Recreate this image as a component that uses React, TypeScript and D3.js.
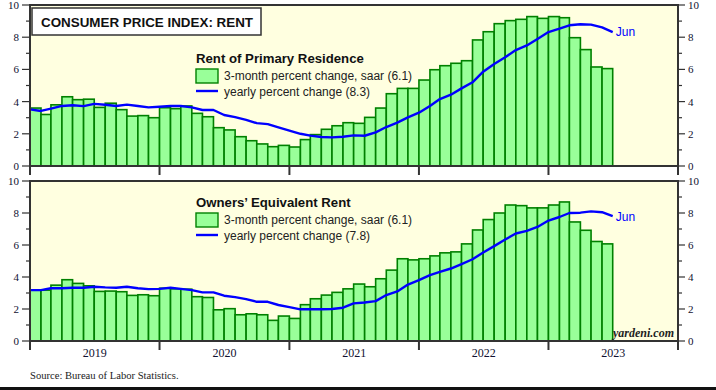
import React from "react";
import * as d3 from "d3";

const years = ["2019", "2020", "2021", "2022", "2023"];
const yTicks = [0, 2, 4, 6, 8, 10];
const yMinor = [1, 3, 5, 7, 9];

// monthly, Jan 2019 .. Jun 2023
const rentBars = [
  3.6, 3.2, 3.8, 4.3, 4.12, 4.15, 3.64, 3.9, 3.5, 3.1, 3.13, 3.0,
  3.62, 3.56, 3.73, 3.27, 3.06, 2.38, 2.24, 1.82, 1.57, 1.37, 1.2, 1.28,
  1.18, 1.64, 1.95, 2.28, 2.5, 2.69, 2.65, 3.02, 3.6, 4.49, 4.82, 4.82,
  5.34, 5.98, 6.23, 6.38, 6.54, 7.83, 8.34, 8.84, 9.03, 9.11, 9.28, 9.17,
  9.28, 9.21, 7.97, 7.23, 6.15, 6.05,
];
// monthly, Dec 2018 .. Jun 2023
const rentYoY = [
  3.52,
  3.42, 3.56, 3.73, 3.77, 3.72, 3.86, 3.8, 3.73, 3.81, 3.73, 3.64, 3.68,
  3.73, 3.73, 3.64, 3.48, 3.48, 3.17, 3.04, 2.87, 2.66, 2.6, 2.4, 2.2,
  2.0, 1.89, 1.8, 1.78, 1.82, 1.9, 1.88, 2.09, 2.42, 2.69, 3.02, 3.31,
  3.73, 4.16, 4.43, 4.82, 5.2, 5.86, 6.34, 6.75, 7.2, 7.49, 7.89, 8.32,
  8.53, 8.74, 8.8, 8.78, 8.61, 8.32,
];
const oerBars = [
  3.18, 3.18, 3.49, 3.83, 3.6, 3.45, 3.1, 3.12, 3.08, 2.85, 2.89, 2.83,
  3.3, 3.26, 3.24, 2.77, 2.72, 1.95, 2.02, 1.64, 1.7, 1.64, 1.29, 1.56,
  1.41, 2.27, 2.64, 2.87, 3.04, 3.26, 3.56, 3.39, 3.89, 4.43, 5.14, 5.07,
  5.14, 5.32, 5.51, 5.57, 6.07, 6.94, 7.59, 8.0, 8.5, 8.46, 8.32, 8.32,
  8.5, 8.69, 7.44, 6.92, 6.22, 6.07,
];
const oerYoY = [
  3.18,
  3.18, 3.3, 3.3, 3.33, 3.33, 3.39, 3.35, 3.33, 3.39, 3.3, 3.24, 3.26,
  3.33, 3.26, 3.18, 3.04, 3.04, 2.83, 2.74, 2.62, 2.45, 2.45, 2.25, 2.12,
  1.98, 1.98, 1.98, 2.0, 2.08, 2.35, 2.41, 2.49, 2.87, 3.1, 3.53, 3.8,
  4.12, 4.32, 4.53, 4.8, 5.11, 5.53, 5.93, 6.34, 6.72, 6.88, 7.13, 7.53,
  7.75, 8.0, 8.02, 8.1, 8.05, 7.8,
];

const SANS = "'Liberation Sans', Arial, sans-serif";
const SERIF = "'Liberation Serif', 'Times New Roman', serif";
const AXIS_COL = "#333";
const LABEL_COL = "#101030";

const X0 = 30;
const X1 = 678;
const start = new Date(2019, 0, 1);
const x = d3.scaleTime().domain([start, new Date(2024, 0, 1)]).range([X0, X1]);
const monthStart = (i: number) => d3.timeMonth.offset(start, i);

interface PanelProps {
  top: number;
  bottom: number;
  bars: number[];
  yoy: number[];
  title: string;
  barLabel: string;
  lineLabel: string;
  legendY: number; // baseline of legend title
  junY: number;
  showYears: boolean;
  showYardeni: boolean;
}

function Panel(p: PanelProps) {
  const y = d3.scaleLinear().domain([0, 10]).range([p.bottom, p.top]);
  const line = d3
    .line<number>()
    .x((_, i) => x(monthStart(i)))
    .y((d) => y(d));
  const yearTicks = d3.range(0, 6).map((k) => x(new Date(2019 + k, 0, 1)));
  const lastX = x(monthStart(p.yoy.length - 1));
  return (
    <g>
      <rect x={X0} y={p.top} width={X1 - X0} height={p.bottom - p.top} fill="#ffffe0" />
      {p.bars.map((v, i) => {
        const xa = x(monthStart(i));
        const xb = x(monthStart(i + 1));
        return (
          <rect
            key={i}
            x={xa}
            y={y(v)}
            width={xb - xa}
            height={y(0) - y(v)}
            fill="#99ff99"
            stroke="#008000"
            strokeWidth={1.6}
          />
        );
      })}
      <path d={line(p.yoy) || ""} fill="none" stroke="#0000ff" strokeWidth={2.4} strokeLinejoin="round" />
      <text x={lastX + 3} y={p.junY} fontFamily={SANS} fontSize={12} fill="#0000ff">
        Jun
      </text>
      {/* frame */}
      <line x1={X0} x2={X1} y1={p.top} y2={p.top} stroke={AXIS_COL} strokeWidth={2} />
      <line x1={X0} x2={X1} y1={p.bottom} y2={p.bottom} stroke={AXIS_COL} strokeWidth={2} />
      <line x1={X0} x2={X0} y1={p.top - 1} y2={p.bottom + 9} stroke={AXIS_COL} strokeWidth={2} />
      <line x1={X1} x2={X1} y1={p.top - 1} y2={p.bottom + 9} stroke={AXIS_COL} strokeWidth={2} />
      {yearTicks.map((tx, k) => (
        <line key={k} x1={tx} x2={tx} y1={p.bottom} y2={p.bottom + 9} stroke={AXIS_COL} strokeWidth={2} />
      ))}
      {yTicks.map((t) => (
        <g key={t}>
          <line x1={X0 - 8} x2={X0} y1={y(t)} y2={y(t)} stroke={AXIS_COL} strokeWidth={1.2} />
          <line x1={X1} x2={X1 + 7} y1={y(t)} y2={y(t)} stroke={AXIS_COL} strokeWidth={1.2} />
          <text x={X0 - 11} y={y(t) + 4} textAnchor="end" fontFamily={SERIF} fontSize={11} fill={LABEL_COL}>
            {t}
          </text>
          <text x={X1 + 10} y={y(t) + 4} fontFamily={SERIF} fontSize={11} fill={LABEL_COL}>
            {t}
          </text>
        </g>
      ))}
      {yMinor.map((t) => (
        <g key={t}>
          <line x1={X0 - 4} x2={X0} y1={y(t)} y2={y(t)} stroke={AXIS_COL} strokeWidth={1.2} />
          <line x1={X1} x2={X1 + 4} y1={y(t)} y2={y(t)} stroke={AXIS_COL} strokeWidth={1.2} />
        </g>
      ))}
      {p.showYears &&
        years.map((yr, k) => (
          <text
            key={yr}
            x={(yearTicks[k] + yearTicks[k + 1]) / 2}
            y={p.bottom + 16}
            textAnchor="middle"
            fontFamily={SERIF}
            fontSize={12}
            fill={LABEL_COL}
          >
            {yr}
          </text>
        ))}
      {/* legend */}
      <text x={196} y={p.legendY} fontFamily={SANS} fontSize={13.2} fontWeight="bold" fill="#111">
        {p.title}
      </text>
      <rect x={196} y={p.legendY + 6} width={22} height={14} fill="#99ff99" stroke="#008000" strokeWidth={1.4} />
      <text x={224} y={p.legendY + 17} fontFamily={SANS} fontSize={12} fill="#222">
        {p.barLabel}
      </text>
      <line x1={196} x2={218} y1={p.legendY + 28} y2={p.legendY + 28} stroke="#0000ff" strokeWidth={2.4} />
      <text x={224} y={p.legendY + 33} fontFamily={SANS} fontSize={12} fill="#222">
        {p.lineLabel}
      </text>
      {p.showYardeni && (
        <text
          x={X1 - 4}
          y={p.bottom - 4}
          textAnchor="end"
          fontFamily={SERIF}
          fontSize={12}
          fontWeight="bold"
          fontStyle="italic"
          fill="#222"
        >
          yardeni.com
        </text>
      )}
    </g>
  );
}

export default function App() {
  React.useEffect(() => {
    document.body.style.margin = "0";
  }, []);
  return (
    <svg width={716} height={390} style={{ display: "block", background: "#fff" }}>
      <Panel
        top={5}
        bottom={166}
        bars={rentBars}
        yoy={rentYoY}
        title="Rent of Primary Residence"
        barLabel="3-month percent change, saar (6.1)"
        lineLabel="yearly percent change (8.3)"
        legendY={63}
        junY={36}
        showYears={false}
        showYardeni={false}
      />
      <Panel
        top={181}
        bottom={341}
        bars={oerBars}
        yoy={oerYoY}
        title="Owners’ Equivalent Rent"
        barLabel="3-month percent change, saar (6.1)"
        lineLabel="yearly percent change (7.8)"
        legendY={207}
        junY={221}
        showYears={true}
        showYardeni={true}
      />
      <rect x={32} y={8} width={229} height={27} fill="#fff" stroke="#333" strokeWidth={1.5} />
      <text x={41} y={26.5} fontFamily={SANS} fontSize={13.4} fontWeight="bold" fill="#111">
        CONSUMER PRICE INDEX: RENT
      </text>
      <text x={30} y={379} fontFamily={SERIF} fontSize={10.6} fill="#222">
        Source: Bureau of Labor Statistics.
      </text>
      <rect x={0} y={387} width={716} height={3} fill="#111" />
    </svg>
  );
}
